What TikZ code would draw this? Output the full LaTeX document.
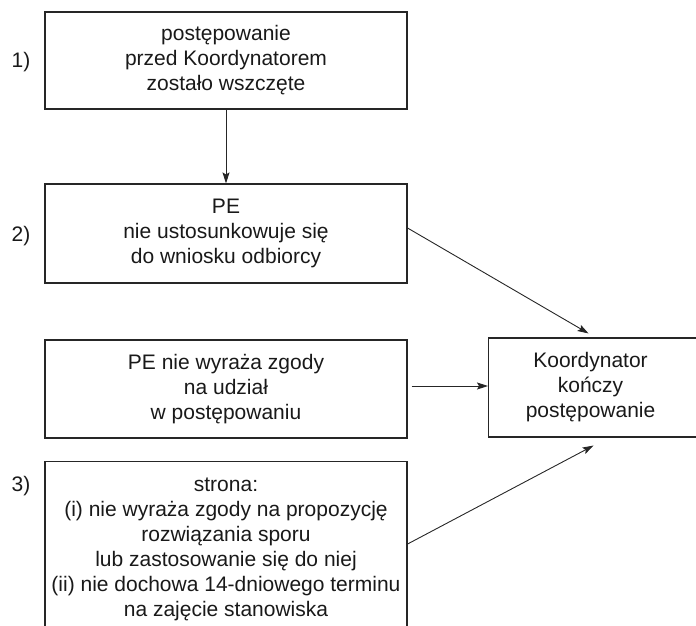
\documentclass[tikz,border=0pt]{standalone}
\usepackage{fontspec}
\setmainfont{Liberation Sans}
\usetikzlibrary{arrows.meta,calc}
\begin{document}
\begin{tikzpicture}[x=1pt,y=-1pt,
  box/.style={draw=black!85, line width=1.1pt, align=center,
    font=\fontsize{21}{25}\selectfont, text=black!90, inner sep=0pt},
  arr/.style={draw=black!85, line width=0.9pt,
    -{Stealth[length=11pt,width=7pt,inset=2pt]}},
  lab/.style={font=\fontsize{21}{25}\selectfont, text=black!90, inner sep=0pt}]
\useasboundingbox (0,0) rectangle (696,626);
\node[box, minimum width=362, minimum height=97] (b1) at (226,60.5)
  {postępowanie\\przed Koordynatorem\\zostało wszczęte};
\node[box, minimum width=362, minimum height=99] (b2) at (226,233.5)
  {PE\\nie ustosunkowuje się\\do wniosku odbiorcy};
\node[box, minimum width=362, minimum height=98] (b3) at (226,389)
  {PE nie wyraża zgody\\na udział\\w postępowaniu};
\node[box, minimum width=362, anchor=north, inner ysep=16] (b4) at (226,461)
  {strona:\\(i) nie wyraża zgody na propozycję\\rozwiązania sporu\\lub zastosowanie się do niej\\(ii) nie dochowa 14-dniowego terminu\\na zajęcie stanowiska};
\node[box, minimum width=212, minimum height=99, anchor=west] (K) at (488,387.5)
  {\hspace*{-8pt}Koordynator\\\hspace*{-8pt}kończy\\\hspace*{-8pt}postępowanie};
\node[lab] (l1) at (21,62) {1)};
\node[lab] (l2) at (21,236) {2)};
\node[lab] (l3) at (21,486) {3)};
\draw[arr] (b1.south) -- (b2.north);
\draw[arr] ([yshift=5.5]b2.east) -- ([xshift=-6,yshift=4]K.north);
\draw[arr, shorten <=4pt] ([yshift=3]b3.east) -- ([yshift=3]b3.east -| K.west);
\draw[arr] ([yshift=5]b4.east) -- ([xshift=-1,yshift=-8]K.south);
\end{tikzpicture}
\end{document}
